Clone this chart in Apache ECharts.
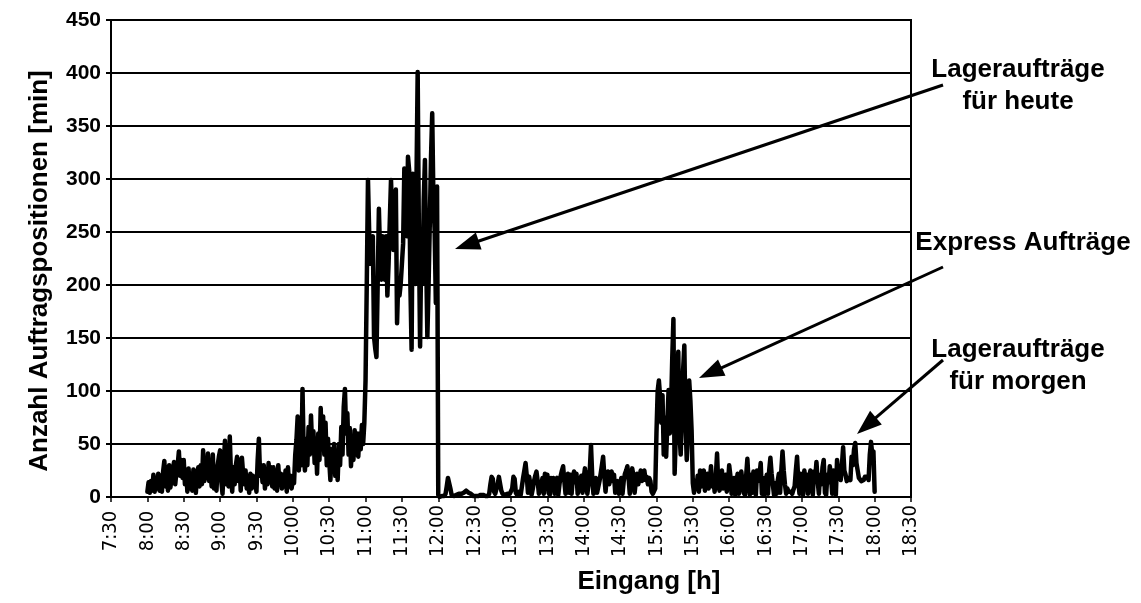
<!DOCTYPE html>
<html>
<head>
<meta charset="utf-8">
<script src="https://cdn.jsdelivr.net/npm/echarts@6/dist/echarts.min.js"></script>
<style>
html,body{margin:0;padding:0;background:#fff;}
#c{width:1141px;height:603px;}
</style>
</head>
<body>
<div id="c"></div>
<script>
// Minutes since midnight of the first sample (8:00), one sample per minute
const startMinute = 480;
const h08 = [5,14,4,15,6,21,5,18,8,22, 6,20,5,24,34,10,28,6,30,9, 8,26,33,12,24,30,43,20,35,18, 35,12,26,5,27,8,20,6,26,10, 4,22,28,10,30,12,44,15,30,18, 41,15,30,10,40,8,26,6,30,38];
const h09 = [44,15,3,30,53,12,35,10,57,20, 5,28,12,30,38,15,35,6,37,22, 12,25,8,18,4,22,8,20,10,15, 5,35,55,20,30,14,30,8,25,12, 32,14,28,10,28,8,25,6,30,12, 22,8,21,10,25,5,28,10,20,8];
const h10 = [16,13,40,54,76,25,60,30,102,40, 25,55,30,66,40,77,45,62,32,55, 22,60,35,84,45,76,40,70,30,55, 35,16,45,25,50,20,35,16,50,30, 66,40,85,102,60,79,40,65,29,55, 35,63,40,60,38,60,45,68,50,70];
const h11 = [110,200,299,250,220,230,246,151,140,132, 200,272,230,205,246,215,205,246,190,220, 260,299,265,233,265,290,164,205,190,201, 220,239,310,270,246,321,308,200,139,305, 260,201,296,401,250,142,239,201,280,318, 227,151,200,258,320,362,280,252,183,293];
const h12 = [2,0,1,1,2,1,3,10,18,19, 8,2,1,1,2,2,2,3,3,3, 3,4,5,6,5,4,3,3,2,1, 1,1,0,1,1,2,3,2,1,1, 2,1,3,12,19,17,5,3,4,12, 19,18,6,3,2,2,3,3,2,3];
const h13 = [3,8,19,17,4,2,3,5,2,10, 18,25,32,20,4,19,12,2,8,15, 20,24,15,3,2,12,18,3,22,15, 21,4,2,18,12,18,3,14,18,2, 12,20,25,29,15,3,15,22,4,21, 3,18,24,14,22,3,2,15,20,4];
const h14 = [18,27,15,3,12,25,49,20,3,12, 18,4,3,15,22,30,38,20,5,18, 24,12,18,24,15,21,4,3,15,3, 12,18,3,15,22,25,29,18,3,15, 27,20,4,15,22,12,18,25,15,20, 25,16,19,12,18,15,5,3,3,8];
const h15 = [60,100,110,95,70,96,40,75,38,70, 101,60,82,130,168,22,60,100,137,60, 40,80,120,143,70,35,62,110,91,63, 13,4,15,8,20,5,25,10,18,25, 6,14,22,8,15,29,10,18,5,20, 41,12,6,18,25,8,15,21,5,12];
const h16 = [30,20,3,12,18,2,15,22,3,14, 24,25,4,2,20,36,15,2,21,4, 24,12,2,25,15,20,32,3,18,2, 14,21,3,25,37,22,12,2,13,3, 15,22,4,25,43,25,12,3,8,5, 4,5,3,7,10,25,38,15,3,22];
const h17 = [12,2,25,15,21,3,18,25,12,2, 24,18,33,15,3,21,12,28,35,4, 2,21,14,29,20,3,25,18,2,35, 22,19,16,30,47,25,21,15,14,18, 16,38,30,45,51,32,25,18,18,15, 16,16,19,18,19,16,40,52,41,43];
const h18 = [5];

const yTicks = [0,50,100,150,200,250,300,350,400,450];
const xMin = 450, xMax = 1110, xStep = 30;   // 7:30 .. 18:30

const labels = {
  yTitle: 'Anzahl Auftragspositionen [min]',
  xTitle: 'Eingang [h]',
  a1: 'Lageraufträge\nfür heute',
  a2: 'Express Aufträge',
  a3: 'Lageraufträge\nfür morgen'
};

const values = [].concat(h08,h09,h10,h11,h12,h13,h14,h15,h16,h17,h18);
const seriesData = values.map((v,i)=>[startMinute+i, v]);

function fmt(v){ const h=Math.floor(v/60), m=v%60; return h+':'+(m<10?'0':'')+m; }

const boldFont = '"Liberation Sans", Arial, Helvetica, sans-serif';

function arrow(x1,y1,tx,ty){
  const dx=tx-x1, dy=ty-y1, L=Math.sqrt(dx*dx+dy*dy);
  const ux=dx/L, uy=dy/L, hl=25, hw=9;
  const bx=tx-ux*hl, by=ty-uy*hl;
  return [
    {type:'line', shape:{x1:x1,y1:y1,x2:tx-ux*hl*0.6,y2:ty-uy*hl*0.6}, style:{stroke:'#000', lineWidth:3}, z:100},
    {type:'polygon', shape:{points:[[tx,ty],[bx-uy*hw,by+ux*hw],[bx+uy*hw,by-ux*hw]]}, style:{fill:'#000'}, z:100}
  ];
}

const chart = echarts.init(document.getElementById('c'));
chart.setOption({
  animation:false,
  backgroundColor:'#fff',
  grid:{left:111, right:230, top:20, bottom:106, show:true, borderColor:'#000', borderWidth:2, containLabel:false},
  xAxis:{
    type:'value', min:xMin, max:xMax, interval:xStep,
    axisLine:{show:true, onZero:false, lineStyle:{color:'#000', width:2}},
    axisTick:{show:true, inside:false, length:5, lineStyle:{color:'#000', width:1.5}},
    splitLine:{show:false},
    axisLabel:{rotate:90, align:'center', verticalAlign:'middle', margin:34, color:'#000',
      fontFamily:'"Liberation Sans Narrow", "Arial Narrow", "DejaVu Sans Condensed", sans-serif', fontSize:20,
      formatter:fmt}
  },
  yAxis:{
    type:'value', min:yTicks[0], max:yTicks[yTicks.length-1], interval:50,
    axisLine:{show:true, lineStyle:{color:'#000', width:2}},
    axisTick:{show:true, inside:false, length:5, lineStyle:{color:'#000', width:2}},
    splitLine:{show:true, lineStyle:{color:'#000', width:2}},
    axisLabel:{color:'#000', fontFamily:boldFont, fontWeight:'bold', fontSize:21, margin:10}
  },
  series:[{
    type:'line', data:seriesData, showSymbol:false, symbol:'none',
    lineStyle:{color:'#000', width:4.5, cap:'round', join:'round'}, z:5
  }],
  graphic:[].concat(
    arrow(943,85,455,249),
    arrow(943,267,699,378),
    arrow(943,360,857,434),
    [
      {type:'text', x:40, y:271, rotation:Math.PI/2, style:{text:labels.yTitle, x:0, y:0, align:'center', verticalAlign:'middle', fill:'#000', font:'bold 26px '+boldFont}},
      {type:'text', x:649, y:582, style:{text:labels.xTitle, x:0, y:0, align:'center', verticalAlign:'middle', fill:'#000', font:'bold 26px '+boldFont}},
      {type:'text', x:1018, y:86, style:{text:labels.a1, x:0, y:0, align:'center', verticalAlign:'middle', lineHeight:32, fill:'#000', font:'bold 26px '+boldFont}},
      {type:'text', x:1023, y:243, style:{text:labels.a2, x:0, y:0, align:'center', verticalAlign:'middle', fill:'#000', font:'bold 26px '+boldFont}},
      {type:'text', x:1018, y:366, style:{text:labels.a3, x:0, y:0, align:'center', verticalAlign:'middle', lineHeight:32, fill:'#000', font:'bold 26px '+boldFont}}
    ]
  )
});
</script>
</body>
</html>
